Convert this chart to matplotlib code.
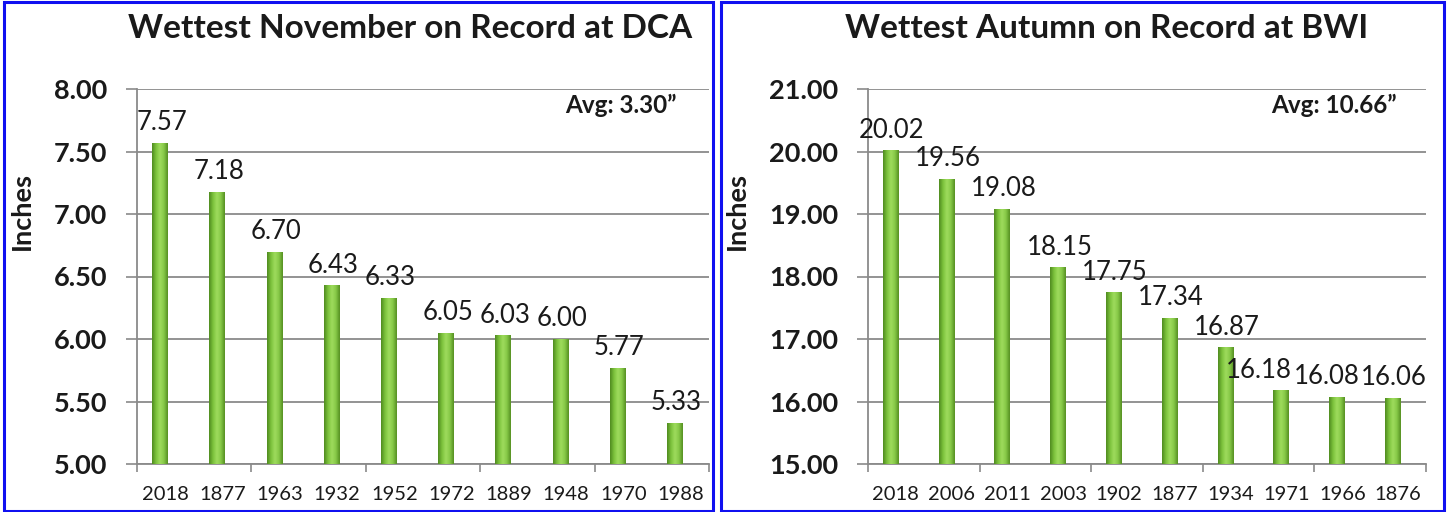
import matplotlib
matplotlib.use('Agg')
import matplotlib.pyplot as plt
import numpy as np
from matplotlib.colors import LinearSegmentedColormap
from matplotlib.patches import Rectangle

# ---------------- data ----------------
dca_years = ['2018', '1877', '1963', '1932', '1952', '1972', '1889', '1948', '1970', '1988']
dca_inches = [7.57, 7.18, 6.70, 6.43, 6.33, 6.05, 6.03, 6.00, 5.77, 5.33]
dca_yticks = [5.00, 5.50, 6.00, 6.50, 7.00, 7.50, 8.00]
dca_title = 'Wettest November on Record at DCA'
dca_avg = 'Avg: 3.30\u201d'

bwi_years = ['2018', '2006', '2011', '2003', '1902', '1877', '1934', '1971', '1966', '1876']
bwi_inches = [20.02, 19.56, 19.08, 18.15, 17.75, 17.34, 16.87, 16.18, 16.08, 16.06]
bwi_yticks = [15.00, 16.00, 17.00, 18.00, 19.00, 20.00, 21.00]
bwi_title = 'Wettest Autumn on Record at BWI'
bwi_avg = 'Avg: 10.66\u201d'

ylabel = 'Inches'

# ---------------- style ----------------
plt.rcParams['font.family'] = ['Lato', 'DejaVu Sans']
W, H, DPI = 1447, 512, 100
fig = plt.figure(figsize=(W / DPI, H / DPI), dpi=DPI)
fig.patch.set_facecolor('white')

GRID = '#8a8a8a'
TXT = '#1a1a1a'
green_cmap = LinearSegmentedColormap.from_list(
    'cyl', ['#4f8a1f', '#7cc23c', '#9fdc5e', '#86c947', '#558f22'])


def px(v):  # pixels -> points
    return v * 72.0 / DPI


def draw_panel(rect, years, values, yticks, avg_text, avg_x):
    ax = fig.add_axes(rect)
    n = len(years)
    x = np.arange(n)
    ymin, ymax = yticks[0], yticks[-1]
    bars = ax.bar(x - 0.1, values, width=0.27, color='none', edgecolor='none', zorder=3)
    grad = green_cmap(np.linspace(0, 1, 64))[np.newaxis, :, :3]
    for b in bars:
        x0, w, h = b.get_x(), b.get_width(), b.get_height()
        clip = Rectangle((x0, ymin), w, h - ymin, transform=ax.transData)
        im = ax.imshow(grad, extent=[x0, x0 + w, ymin, h], aspect='auto',
                       interpolation='bicubic', zorder=3)
        im.set_clip_path(clip)
    anns = []
    for xi, v in zip(x, values):
        anns.append(ax.annotate(f'{v:.2f}', (xi - 0.07, v), xytext=(0, px(20)),
                                textcoords='offset points', ha='center', va='center',
                                fontsize=18.5, color=TXT, zorder=4))
    ax.set_xlim(-0.5, n - 0.5)
    ax.set_ylim(ymin, ymax)
    ax.set_yticks(yticks)
    ax.set_yticklabels([f'{t:.2f}' for t in yticks], fontsize=19.5,
                       fontweight='bold', color=TXT)
    ax.tick_params(axis='y', length=px(11), width=1.2, color=GRID, pad=px(19))
    ax.set_xticks(np.arange(0, n + 1, 2) - 0.5)
    ax.set_xticklabels([])
    ax.set_xticks(x, minor=True)
    ax.set_xticklabels(years, minor=True, fontsize=14.5, color=TXT)
    ax.tick_params(axis='x', which='major', length=px(8), width=1.2, color=GRID)
    ax.tick_params(axis='x', which='minor', length=0, pad=px(22))
    ax.grid(axis='y', color=GRID, linewidth=1.3, zorder=1)
    ax.set_axisbelow(True)
    for s in ['top', 'right']:
        ax.spines[s].set_visible(False)
    for s in ['left', 'bottom']:
        ax.spines[s].set_color(GRID)
        ax.spines[s].set_linewidth(1.3)
    ax.text(avg_x, 0.957, avg_text, transform=ax.transAxes, ha='right', va='center',
            fontsize=17.5, fontweight='bold', color=TXT)
    return ax, anns


y0 = 1 - 464 / H
hgt = 375 / H
ax1, anns1 = draw_panel([137 / W, y0, 572 / W, hgt], dca_years, dca_inches, dca_yticks, dca_avg, 0.944)
ax2, anns2 = draw_panel([868 / W, y0, 558 / W, hgt], bwi_years, bwi_inches, bwi_yticks, bwi_avg, 0.948)

# titles and axis titles
fig.text(410 / W, 1 - 38 / H, dca_title, ha='center', va='baseline', fontsize=24,
         fontweight='bold', color=TXT)
fig.text(1107 / W, 1 - 38 / H, bwi_title, ha='center', va='baseline', fontsize=24,
         fontweight='bold', color=TXT)
fig.text(22 / W, 1 - 211 / H, ylabel, rotation=90, ha='center', va='center',
         fontsize=19.5, fontweight='bold', color=TXT)
fig.text(737 / W, 1 - 211 / H, ylabel, rotation=90, ha='center', va='center',
         fontsize=19.5, fontweight='bold', color=TXT)

# blue panel borders
for (l, r) in [(4, 713), (721, 1444)]:
    fig.patches.append(Rectangle((l / W, 1.5 / H), (r - l) / W, (H - 3) / H,
                                 transform=fig.transFigure, fill=False,
                                 edgecolor='#1010f0', linewidth=2.2))

# push colliding data labels to the left (as the original chart does)
fig.canvas.draw()
rend = fig.canvas.get_renderer()
for anns in (anns1, anns2):
    for i in range(len(anns) - 2, -1, -1):
        a, b = anns[i].get_window_extent(rend), anns[i + 1].get_window_extent(rend)
        if a.x1 > b.x0 - 2 and a.y0 < b.y1 and b.y0 < a.y1:
            shift = a.x1 - b.x0 + 2
            ox, oy = anns[i].xyann
            anns[i].xyann = (ox - px(shift), oy)

fig.savefig('out.png', dpi=DPI, facecolor='white')
